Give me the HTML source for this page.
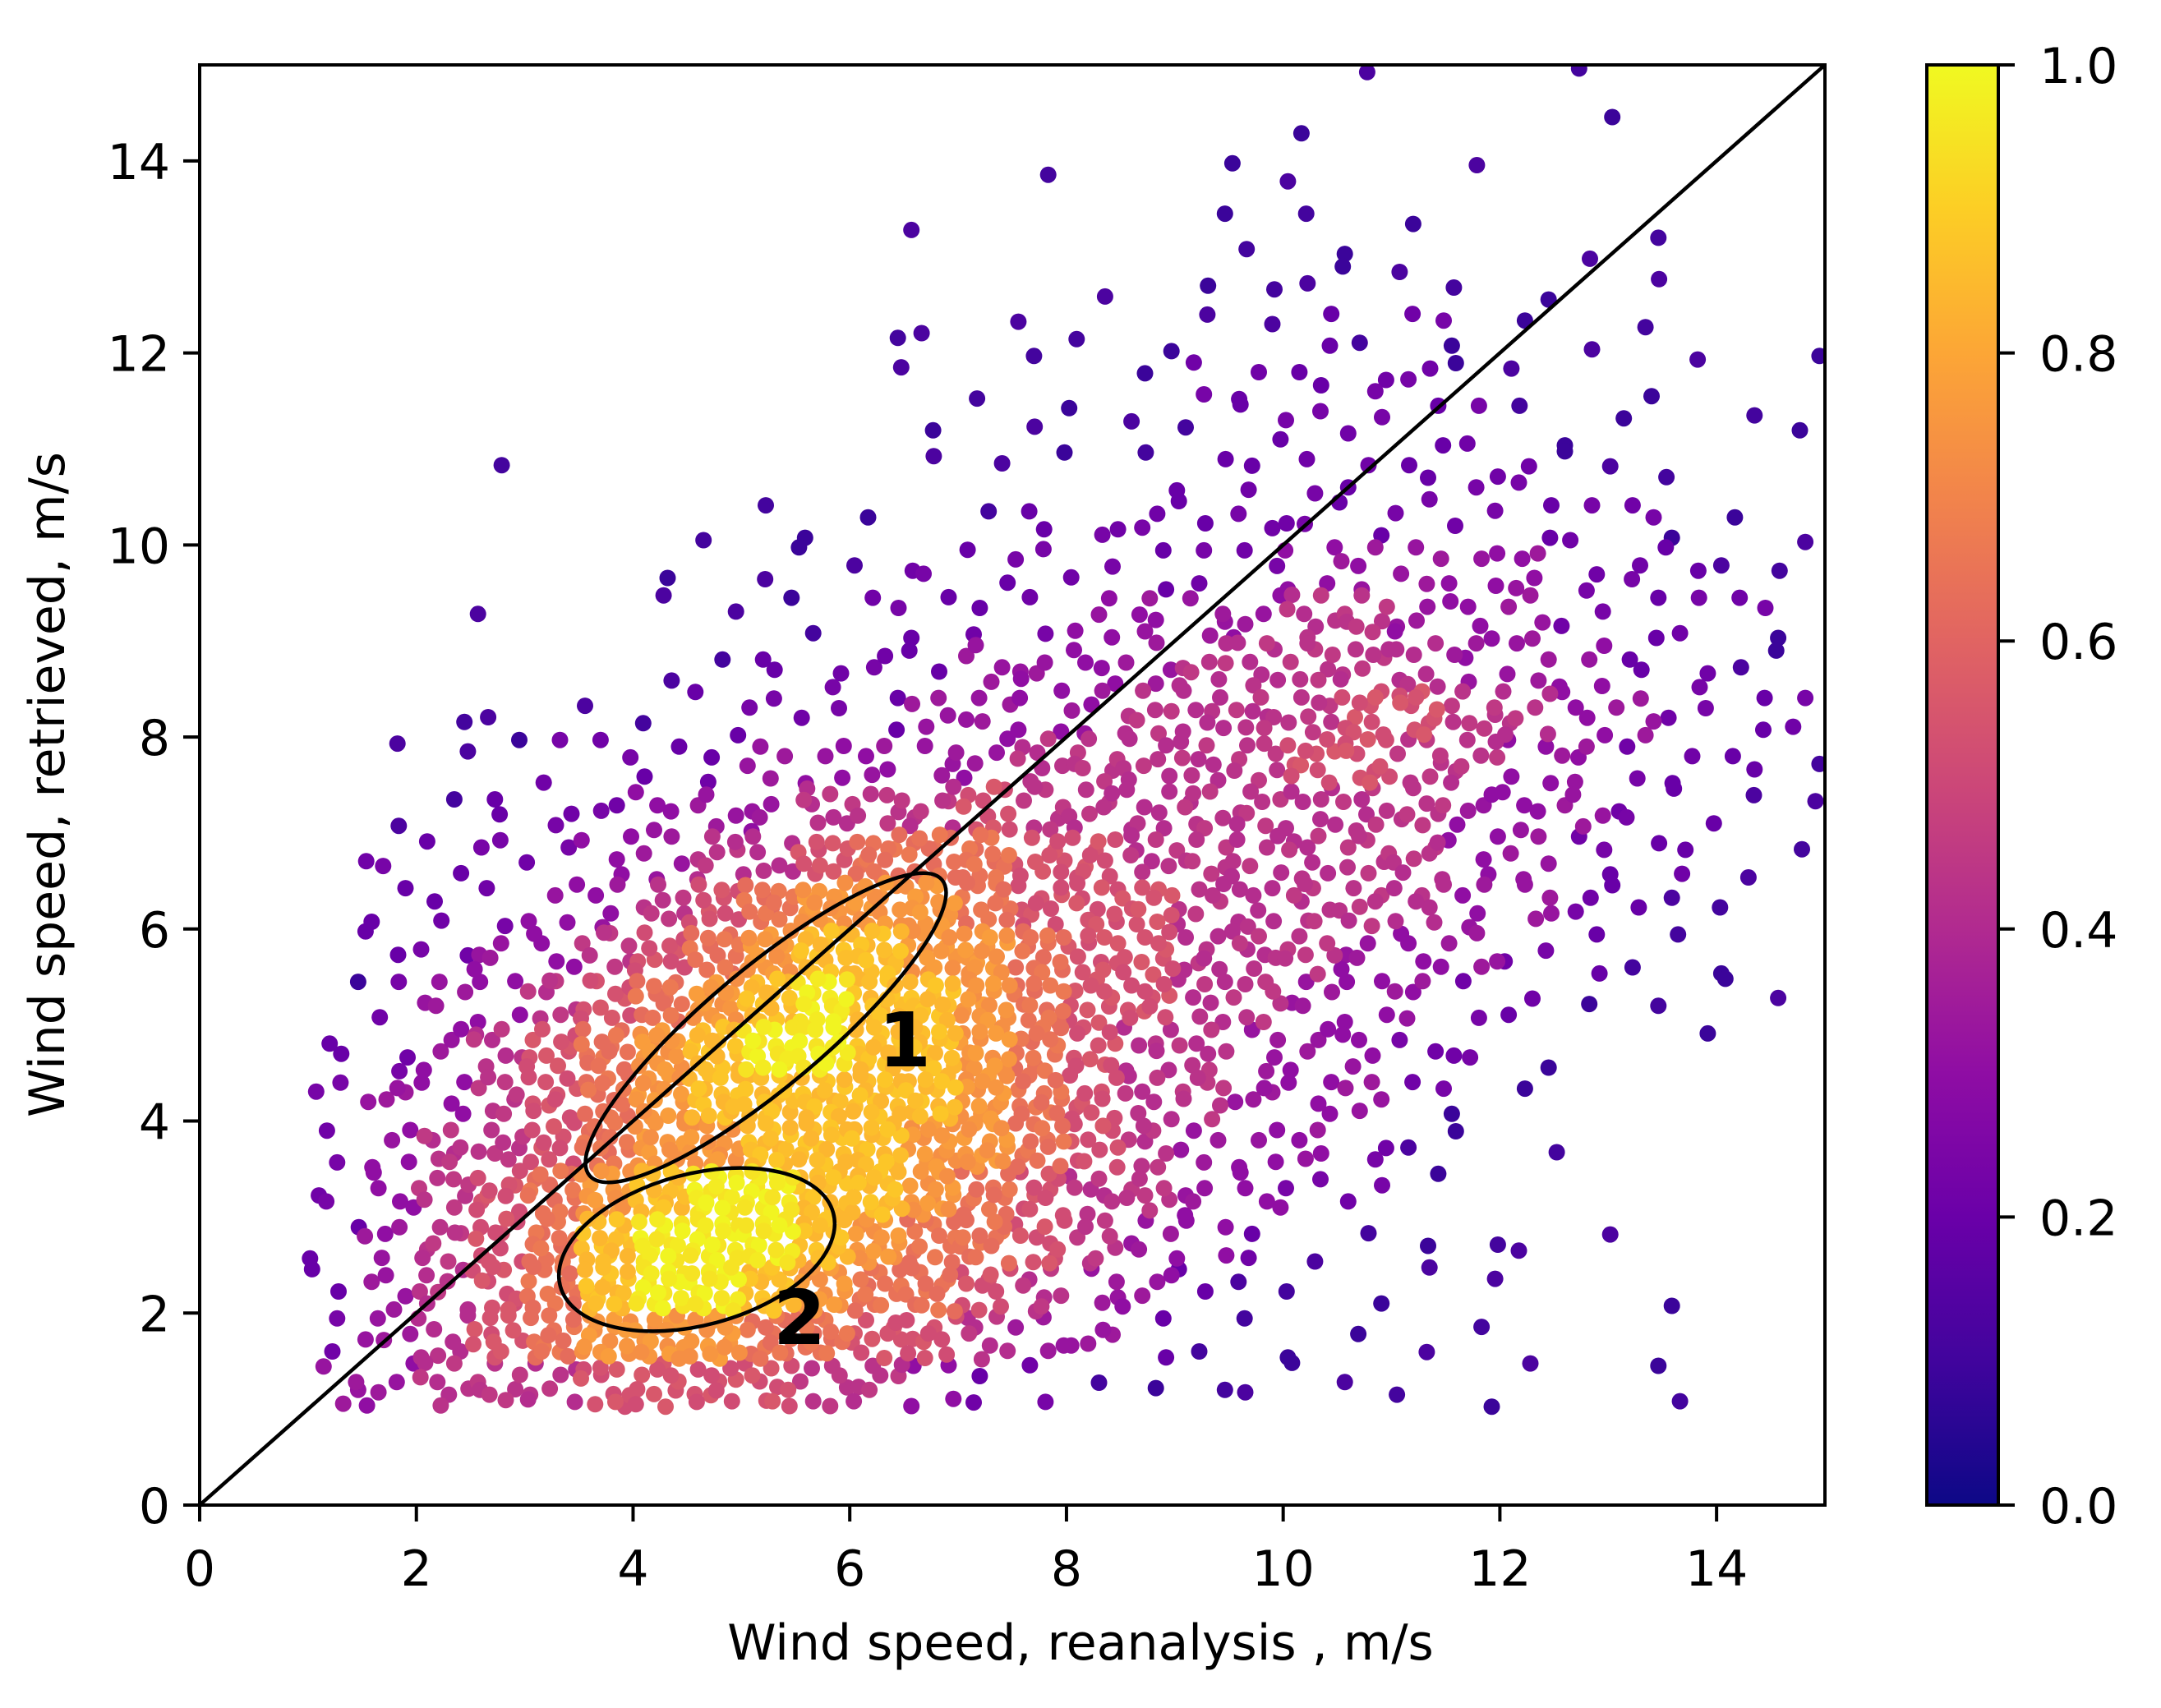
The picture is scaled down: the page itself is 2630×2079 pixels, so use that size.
<!DOCTYPE html>
<html><head><meta charset="utf-8"><style>
html,body{margin:0;padding:0;background:#fff;}
svg{display:block;font-family:"DejaVu Sans","Liberation Sans",sans-serif;}
</style></head><body>
<svg id="chart" width="2630" height="2079" viewBox="0 0 2630 2079" xmlns="http://www.w3.org/2000/svg">
<defs>
<linearGradient id="plasma" x1="0" y1="1" x2="0" y2="0">
<stop offset="0" stop-color="#0d0887"/><stop offset="0.1" stop-color="#41049d"/><stop offset="0.2" stop-color="#6a00a8"/><stop offset="0.3" stop-color="#8f0da4"/><stop offset="0.4" stop-color="#b12a90"/><stop offset="0.5" stop-color="#cc4778"/><stop offset="0.6" stop-color="#e16462"/><stop offset="0.7" stop-color="#f2844b"/><stop offset="0.8" stop-color="#fca636"/><stop offset="0.9" stop-color="#fcce25"/><stop offset="1" stop-color="#f0f921"/>
</linearGradient>
<clipPath id="plotclip"><rect x="243" y="79" width="1978" height="1753"/></clipPath>
</defs>
<g id="points" clip-path="url(#plotclip)"></g>
<g id="overlay"></g>
<g id="axes"></g>
<g id="cbar"></g>
</svg>
<script>
// density grid rows: y band top (15) to bottom (0), columns x 0..15 in 0.5 steps; digit = density level 0-9
const densityRows = [
"000000000000000000000100010000",
"000000000000000000001000001000",
"000000000000000100011001000000",
"000000000000010000111110001000",
"000000000000000010111111111000",
"000000000000110111112121111000",
"000000000000101101222221101101",
"000000000000010111122222111011",
"000001000000011101222222211100",
"000000000111101222222222222111",
"000000001011122222223333322211",
"000001001111222233334433322221",
"000000001122223333444443332211",
"000011011222233334444554433222",
"000111222233333444445544332221",
"000112223334445444444443332211",
"000222233445666554444443322211",
"000222334567776555444443322110",
"000223345678877655444333221110",
"001233456789887655443332211011",
"002234567899887654433322100100",
"002334567888887654433321100000",
"002344567788877654333211010000",
"002345678998876544332210000000",
"002345689998766543321111101000",
"002345689987665433211111000100",
"002345677766554332111111000000",
"003344455554432211111111101100",
"000000000000000000000000000000",
"000000000000000000000000000000"
];
const xTicks = [0,2,4,6,8,10,12,14];
const yTicks = [0,2,4,6,8,10,12,14];
const cTicks = ["0.0","0.2","0.4","0.6","0.8","1.0"];
const cTickValues = [0,0.2,0.4,0.6,0.8,1.0];
const xLimits = [0,15];
const yLimits = [0,15];

const NS="http://www.w3.org/2000/svg";
const PL=243, PR=2221, PT=79, PB=1832;
function sx(v){return PL+(v-xLimits[0])/(xLimits[1]-xLimits[0])*(PR-PL);}
function sy(v){return PB-(v-yLimits[0])/(yLimits[1]-yLimits[0])*(PB-PT);}
const CB={l:2345,r:2432,t:79,b:1832};
function cy(v){return CB.b-v*(CB.b-CB.t);}
const stops=[[13,8,135],[65,4,157],[106,0,168],[143,13,164],[177,42,144],[204,71,120],[225,100,98],[242,132,75],[252,166,54],[252,206,37],[240,249,33]];
function plasma(t){t=Math.max(0,Math.min(1,t));const f=t*10,i=Math.min(9,Math.floor(f)),u=f-i;const a=stops[i],b=stops[i+1];
return "rgb("+a.map((c,k)=>Math.round(c+(b[k]-c)*u)).join(",")+")";}
function mk(tag,attrs,parent){const e=document.createElementNS(NS,tag);for(const k in attrs)e.setAttribute(k,attrs[k]);parent.appendChild(e);return e;}

const slotsFor=[0,1,2,4,7,10,13,15,16,16];
const order=[5,10,0,15,3,12,6,9,1,14,8,7,2,13,11,4];
const jit=[[0.3,-0.2],[-0.25,0.3],[0.1,0.25],[-0.3,-0.1],[0.2,0.1],[-0.1,-0.3],[0.35,0.2],[-0.2,0.15],[0.05,-0.25],[0.25,-0.35],[-0.35,0.05],[0.15,0.35],[-0.05,0.1],[0.3,0.3],[-0.15,-0.2],[0.1,-0.05]];
const pg=document.getElementById('points');
for(let lv=1;lv<=9;lv++){
  densityRows.forEach((row,r)=>{
    for(let c=0;c<row.length;c++){
      const d=+row[c]; if(d!==lv) continue;
      const n=slotsFor[d];
      const x0=c*0.5, y0=15-(r+1)*0.5;
      for(let s=0;s<n;s++){
        const slot=order[(s+r*3+c*5)%16];
        const j=jit[(slot+r+c)%16];
        const sxu=x0+((slot%4)+0.5+j[0])*0.125;
        let syu=y0+(Math.floor(slot/4)+0.5+j[1])*0.125;
        if(syu<1.0) syu=1.0+((slot%4)*0.03);
        const col=plasma(Math.min(1,d/9.3+((slot%3)-1)*0.02));
        const el=mk('circle',{cx:sx(sxu).toFixed(1),cy:sy(syu).toFixed(1),r:10,fill:col},pg);
        
        
      }
    }
  });
}

const ov=document.getElementById('overlay');
const diag=mk('line',{x1:sx(0),y1:sy(0),x2:sx(15),y2:sy(15),stroke:'#000','stroke-width':4.5},ov);


const e1=mk('ellipse',{cx:932,cy:1251,rx:280,ry:72,transform:'rotate(-40 932 1251)',fill:'none',stroke:'#000','stroke-width':4.5},ov);


const e2=mk('ellipse',{cx:848,cy:1521,rx:172,ry:92,transform:'rotate(-15 848 1521)',fill:'none',stroke:'#000','stroke-width':4.5},ov);


const l1=mk('text',{x:1101,y:1298,'font-size':92,'font-weight':'bold','text-anchor':'middle',fill:'#000'},ov);
l1.textContent='1';


const l2=mk('text',{x:973,y:1636,'font-size':92,'font-weight':'bold','text-anchor':'middle',fill:'#000'},ov);
l2.textContent='2';



const ax=document.getElementById('axes');
const frame=mk('rect',{x:PL,y:PT,width:PR-PL,height:PB-PT,fill:'none',stroke:'#000','stroke-width':4},ax);


xTicks.forEach(v=>{
  const t=mk('line',{x1:sx(v),y1:PB,x2:sx(v),y2:PB+20,stroke:'#000','stroke-width':4},ax);
  
  
  const lb=mk('text',{x:sx(v),y:PB+98,'font-size':60,'text-anchor':'middle',fill:'#000'},ax);
  lb.textContent=String(v);
  
  
});
yTicks.forEach(v=>{
  const t=mk('line',{x1:PL-20,y1:sy(v),x2:PL,y2:sy(v),stroke:'#000','stroke-width':4},ax);
  
  
  const lb=mk('text',{x:PL-36,y:sy(v)+22,'font-size':60,'text-anchor':'end',fill:'#000'},ax);
  lb.textContent=String(v);
  
  
});
const xt=mk('text',{x:1315,y:2020,'font-size':60,'text-anchor':'middle',fill:'#000'},ax);
xt.textContent='Wind speed, reanalysis , m/s';


const yt=mk('text',{x:0,y:0,'font-size':60,'text-anchor':'middle',fill:'#000',transform:'translate(78 955) rotate(-90)'},ax);
yt.textContent='Wind speed, retrieved, m/s';



const cb=document.getElementById('cbar');
const bar=mk('rect',{x:CB.l,y:CB.t,width:CB.r-CB.l,height:CB.b-CB.t,fill:'url(#plasma)',stroke:'#000','stroke-width':4},cb);


cTickValues.forEach((v,i)=>{
  const t=mk('line',{x1:CB.r,y1:cy(v),x2:CB.r+20,y2:cy(v),stroke:'#000','stroke-width':4},cb);
  
  
  const lb=mk('text',{x:CB.r+50,y:cy(v)+22,'font-size':60,'text-anchor':'start',fill:'#000'},cb);
  lb.textContent=cTicks[i];
  
  
});
</script>
</body></html>
